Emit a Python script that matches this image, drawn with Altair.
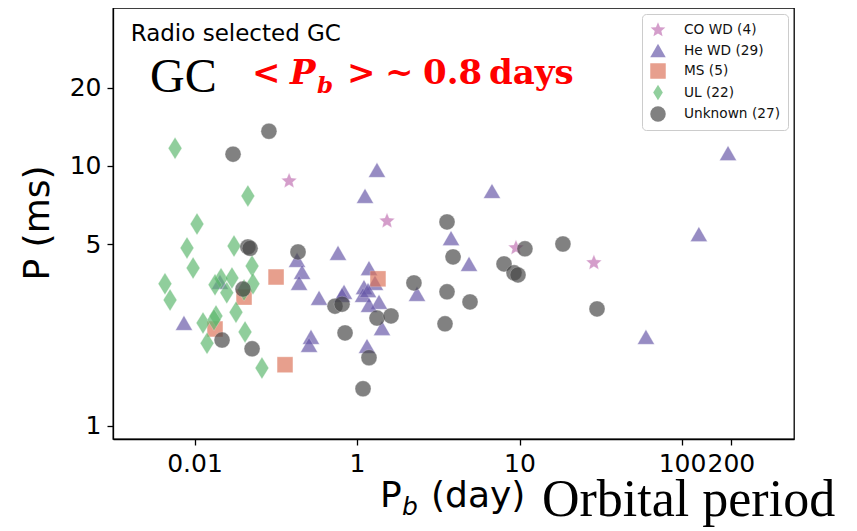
import altair as alt
import pandas as pd

# ---------------- data ----------------
classes = ["CO WD (4)", "He WD (29)", "MS (5)", "UL (22)", "Unknown (27)"]
colors = ["#c070b2", "#6657a8", "#dc7258", "#5db86e", "#464646"]

co_pb = [0.382, 1.53, 9.51, 28.7]
co_p = [8.75, 6.14, 4.84, 4.24]

he_pb = [0.764, 0.4275, 0.459, 0.44, 0.584, 0.1435, 0.0861, 0.521, 0.507, 1.327,
         1.12, 6.77, 3.79, 4.89, 1.185, 1.29, 0.832, 0.809, 1.104, 1.089,
         1.169, 1.366, 1.185, 2.34, 1.425, 1.152, 192, 127, 60.0]
he_p = [4.63, 4.35, 3.91, 3.55, 3.11, 3.58, 2.49, 2.20, 2.05, 9.65,
        7.67, 8.01, 5.28, 4.20, 4.05, 3.55, 3.28, 3.19, 3.42, 3.19,
        3.33, 3.00, 2.92, 3.22, 2.38, 2.03, 11.2, 5.47, 2.20]

ms_pb = [0.3175, 0.2017, 0.1337, 0.3605, 1.346]
ms_p = [3.74, 3.13, 2.36, 1.72, 3.68]

ul_pb = [0.0759, 0.213, 0.1036, 0.0899, 0.175, 0.098, 0.226, 0.0658, 0.0707, 0.1456,
         0.170, 0.229, 0.158, 0.2017, 0.180, 0.1356, 0.1128, 0.1194, 0.2046, 0.260,
         0.1337, 0.1318]
ul_p = [11.7, 7.67, 5.98, 4.84, 4.92, 4.05, 4.12, 3.52, 3.05, 3.68,
        3.71, 3.52, 3.25, 3.33, 2.74, 2.65, 2.49, 2.08, 2.30, 1.67,
        3.49, 2.56]

un_pb = [0.287, 0.1726, 0.213, 0.2197, 0.4335, 0.1988, 0.732, 0.809, 0.1477, 0.226,
         0.844, 3.58, 3.90, 10.8, 18.5, 8.03, 9.25, 9.79, 2.24, 3.58,
         4.96, 1.327, 1.619, 3.48, 1.185, 1.089, 30.0]
un_p = [13.6, 11.1, 4.88, 4.82, 4.67, 3.36, 2.89, 2.94, 2.14, 1.98,
        2.28, 6.09, 4.47, 4.80, 5.01, 4.20, 3.88, 3.81, 3.55, 3.28,
        3.00, 2.60, 2.65, 2.47, 1.83, 1.39, 2.82]

x_tick_values = [0.1, 1, 10, 100, 200]
x_tick_labels = ["0.01", "1", "10", "100", "200"]
y_tick_values = [1, 5, 10, 20]
y_tick_labels = ["1", "5", "10", "20"]

# ---------------- marker shapes ----------------
STAR = ("M0,-1L0.264,-0.364L0.951,-0.309L0.428,0.139L0.588,0.809L0,0.45"
        "L-0.588,0.809L-0.428,0.139L-0.951,-0.309L-0.264,-0.364Z")
DIAMOND = "M0,-1L0.62,0L0,1L-0.62,0Z"
shapes = [STAR, "triangle-up", "square", DIAMOND, "circle"]
sizes = [270, 289, 250, 484, 256]

rows = []
for cls, sz, pbs, ps in zip(classes, sizes, [co_pb, he_pb, ms_pb, ul_pb, un_pb],
                            [co_p, he_p, ms_p, ul_p, un_p]):
    for a, b in zip(pbs, ps):
        rows.append({"cls": cls, "pb": a, "p": b, "sz": sz})
df = pd.DataFrame(rows)

def label_expr(vals, labs):
    parts = " : ".join(f"abs(datum.value - {v}) < {v*0.01} ? '{l}'" for v, l in zip(vals, labs))
    return parts + " : ''"

legend = alt.Legend(title=None, orient="none", legendX=529, legendY=6)

points = alt.Chart(df).mark_point(filled=True, opacity=0.68, stroke="white",
                                  strokeWidth=0.6, strokeOpacity=0.5).encode(
    x=alt.X("pb:Q", scale=alt.Scale(type="log", domain=[0.0315, 489], nice=False),
            axis=alt.Axis(values=x_tick_values, labelExpr=label_expr(x_tick_values, x_tick_labels),
                          title=None, labelOverlap=False, labelFlush=False)),
    y=alt.Y("p:Q", scale=alt.Scale(type="log", domain=[0.891, 40.5], nice=False),
            axis=alt.Axis(values=y_tick_values, labelExpr=label_expr(y_tick_values, y_tick_labels),
                          title=None, labelOverlap=False, labelFlush=False)),
    color=alt.Color("cls:N", scale=alt.Scale(domain=classes, range=colors), legend=legend),
    shape=alt.Shape("cls:N", scale=alt.Scale(domain=classes, range=shapes), legend=legend),
    size=alt.Size("sz:Q", scale=None, legend=None),
)

def txt(s, x, y, size, font="DejaVu Sans", color="black", weight="normal",
        style="normal", angle=0, align="left", baseline="alphabetic"):
    return alt.Chart(pd.DataFrame({"t": [s]})).mark_text(
        font=font, fontSize=size, color=color, fontWeight=weight, fontStyle=style,
        angle=angle, align=align, baseline=baseline
    ).encode(text="t:N", x=alt.value(x), y=alt.value(y))

RED = "#ff0000"
SER = "DejaVu Serif"
annotations = [
    txt("Radio selected GC", 17.7, 33, 23),
    txt("GC", 37, 84, 48, font="Liberation Serif"),
    txt("<", 139, 76, 34, font=SER, color=RED, weight="bold"),
    txt("P", 177, 76, 34, font=SER, color=RED, weight="bold", style="italic"),
    txt("b", 204, 85, 23, font=SER, color=RED, weight="bold", style="italic"),
    txt(">", 234, 76, 34, font=SER, color=RED, weight="bold"),
    txt("~", 272, 76, 34, font=SER, color=RED, weight="bold"),
    txt("0.8", 310, 76, 34, font=SER, color=RED, weight="bold"),
    txt("days", 376, 76, 34, font=SER, color=RED, weight="bold"),
    txt("P (ms)", -75.5, 215, 36, angle=270, align="center", baseline="middle"),
    txt("P", 267, 499, 36),
    txt("b", 289, 507, 25, style="italic"),
    txt("(day)", 318, 499, 36),
    txt("Orbital period", 429, 508, 52, font="Liberation Serif"),
]

chart = alt.layer(points, *annotations).properties(
    width=681, height=431,
    autosize=alt.AutoSizeParams(type="none"),
    padding={"left": 105, "top": 0, "right": 55, "bottom": 90},
).configure_view(
    stroke="black", strokeWidth=1.3
).configure_axis(
    grid=False, domainColor="black", domainWidth=1.3, tickColor="black",
    tickWidth=1.3, tickSize=6, labelColor="black", labelFont="DejaVu Sans",
    labelFontSize=25, labelPadding=6
).configure_legend(
    labelFont="DejaVu Sans", labelFontSize=13.7, labelColor="#111111",
    symbolSize=240, symbolOpacity=0.68, symbolStrokeWidth=0,
    fillColor="white", strokeColor="#cccccc", cornerRadius=4,
    padding=8, rowPadding=5.5, labelOffset=18
)

chart.save("out.html", embed_options={"renderer": "svg", "actions": False})
